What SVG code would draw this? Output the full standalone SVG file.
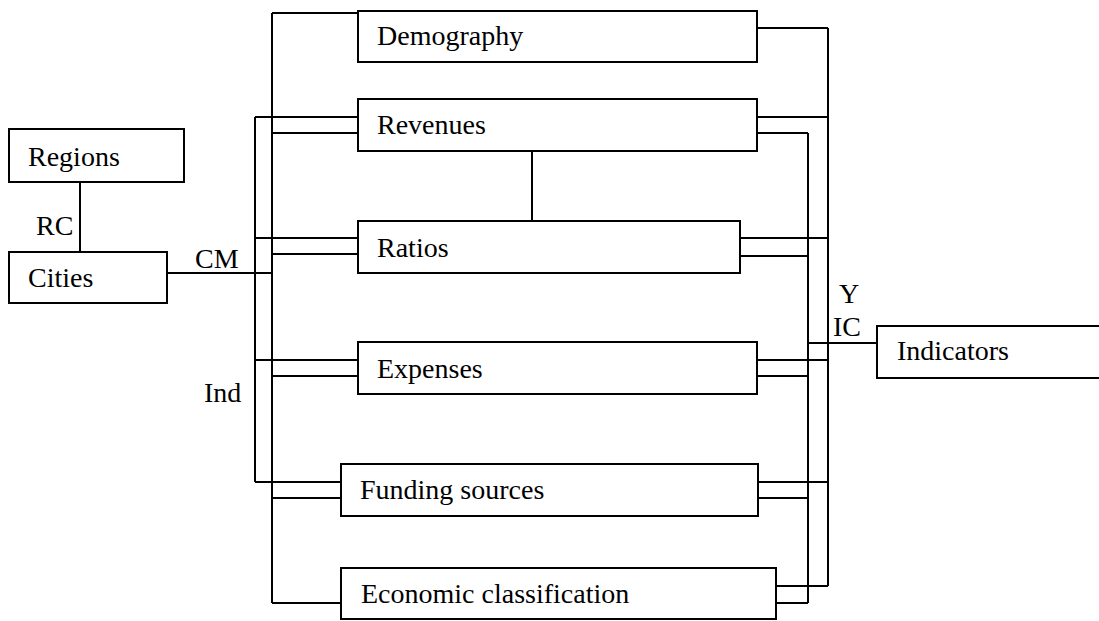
<svg xmlns="http://www.w3.org/2000/svg" width="1099" height="621" viewBox="0 0 1099 621">
<style>
.box{fill:#fff;stroke:#000;stroke-width:2}
.ln{fill:none;stroke:#000;stroke-width:2}
.t{font-family:'Liberation Serif','Times New Roman',serif;font-size:28px;fill:#000}
</style>
<rect width="1099" height="621" fill="#fff"/>
<g id="connectors" class="ln">
<path d="M80,182V252"/>
<path d="M167,273H272"/>
<path d="M255,482V117"/>
<path d="M272,13V603"/>
<path d="M272,13H358"/>
<path d="M255,117H358M272,133H358"/>
<path d="M255,238H358M272,254H358"/>
<path d="M255,360H358M272,376H358"/>
<path d="M255,482H341M272,498H341"/>
<path d="M272,603H341"/>
<path d="M532,151V221"/>
<path d="M828,28V586"/>
<path d="M808,133V603"/>
<path d="M757,28H828"/>
<path d="M757,117H828M757,133H808"/>
<path d="M740,238H828M740,256H808"/>
<path d="M757,360H828M757,376H808"/>
<path d="M758,482H828M758,498H808"/>
<path d="M776,586H828M776,603H808"/>
<path d="M808,343H877"/>
</g>
<g id="labels" class="t">
<text x="36" y="235">RC</text>
<text x="195" y="268">CM</text>
<text x="204" y="402">Ind</text>
<text x="839" y="303">Y</text>
<text x="833" y="336">IC</text>
</g>
<g id="regions"><rect class="box" x="9" y="129" width="175" height="53"/><text class="t" x="28" y="166">Regions</text></g>
<g id="cities"><rect class="box" x="9" y="252" width="158" height="51"/><text class="t" x="28" y="287">Cities</text></g>
<g id="demography"><rect class="box" x="358" y="11" width="399" height="51"/><text class="t" x="377" y="45">Demography</text></g>
<g id="revenues"><rect class="box" x="358" y="99" width="399" height="52"/><text class="t" x="377" y="134">Revenues</text></g>
<g id="ratios"><rect class="box" x="358" y="221" width="382" height="52"/><text class="t" x="377" y="257">Ratios</text></g>
<g id="expenses"><rect class="box" x="358" y="342" width="399" height="52"/><text class="t" x="377" y="378">Expenses</text></g>
<g id="funding"><rect class="box" x="341" y="464" width="417" height="52"/><text class="t" x="360" y="499">Funding sources</text></g>
<g id="economic"><rect class="box" x="341" y="568" width="435" height="51"/><text class="t" x="361" y="603">Economic classification</text></g>
<g id="indicators"><rect class="box" x="877" y="326" width="230" height="52"/><text class="t" x="897" y="360">Indicators</text></g>
</svg>
